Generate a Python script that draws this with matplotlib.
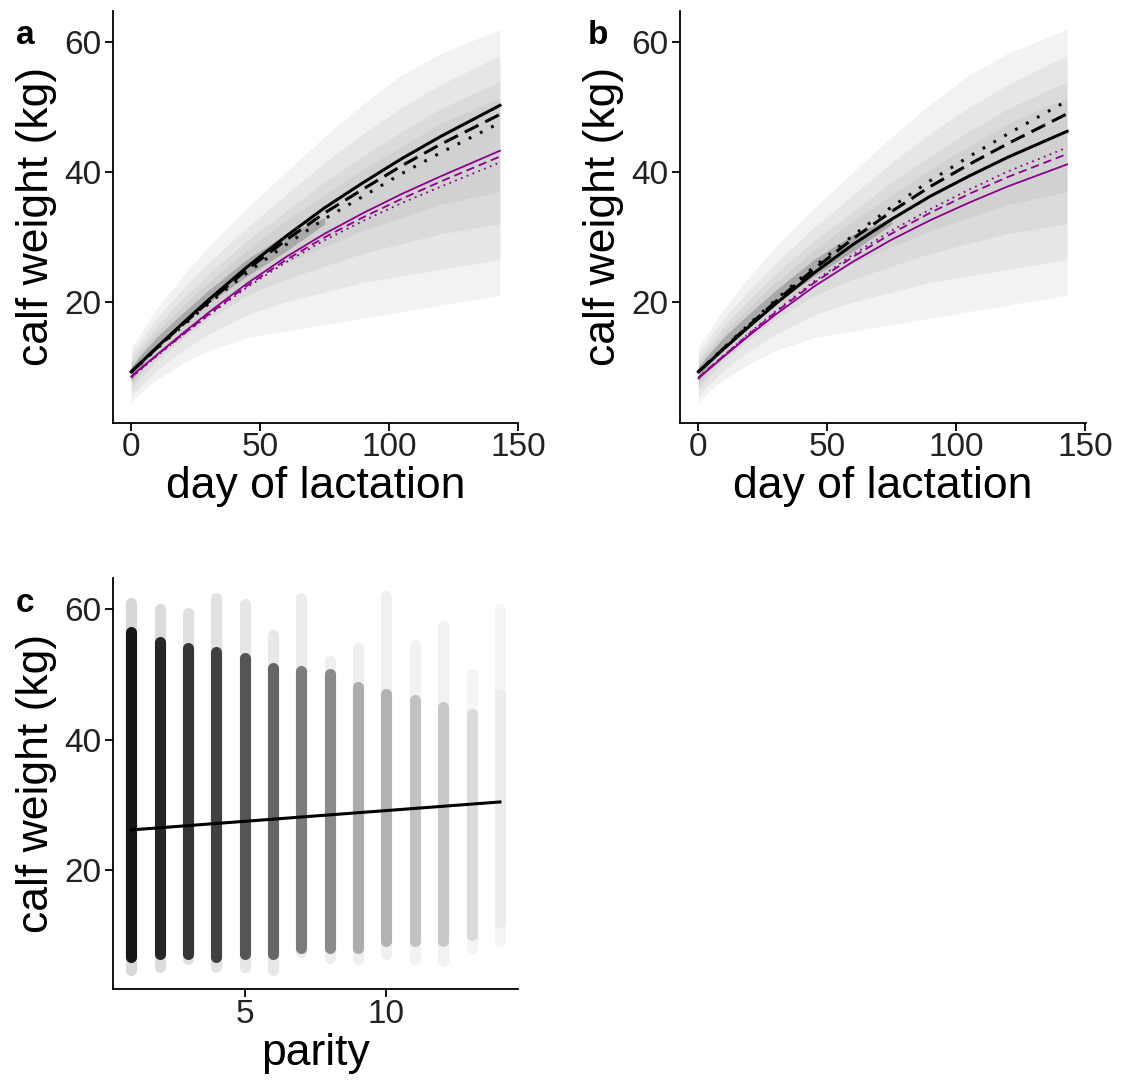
import matplotlib
matplotlib.use("Agg")
import matplotlib.pyplot as plt

plt.rcParams['font.family'] = ['Liberation Sans', 'DejaVu Sans']
plt.rcParams['lines.scale_dashes'] = False

# ---- data ----
days = [0, 10, 20, 30, 45, 60, 75, 90, 105, 120, 143]

# panel a fitted curves (calf weight, kg)
a_black_solid = [9.2, 13.0, 16.7, 20.3, 25.4, 30.1, 34.5, 38.4, 42.1, 45.5, 50.3]
a_black_dash = [9.2, 12.9, 16.5, 20.0, 25.0, 29.5, 33.7, 37.4, 41.0, 44.3, 48.9]
a_black_dot = [9.1, 12.8, 16.3, 19.7, 24.5, 28.8, 32.8, 36.3, 39.8, 43.0, 47.6]
a_purple_solid = [8.5, 11.85, 15.15, 18.35, 22.85, 26.9, 30.5, 33.7, 36.65, 39.35, 43.3]
a_purple_dash = [8.4, 11.75, 14.95, 18.05, 22.5, 26.45, 29.95, 33.05, 35.9, 38.55, 42.4]
a_purple_dot = [8.3, 11.65, 14.85, 17.9, 22.25, 26.1, 29.5, 32.5, 35.25, 37.75, 41.5]

# panel b fitted curves
b_black_solid = [9.2, 12.8, 16.3, 19.7, 24.5, 28.85, 32.75, 36.3, 39.4, 42.3, 46.3]
b_black_dash = [9.2, 12.9, 16.5, 20.05, 25.1, 29.75, 33.95, 37.8, 41.2, 44.4, 49.0]
b_black_dot = [9.2, 12.95, 16.65, 20.3, 25.45, 30.25, 34.65, 38.7, 42.4, 45.9, 51.0]
b_purple_solid = [8.2, 11.6, 14.9, 18.05, 22.4, 26.2, 29.6, 32.6, 35.3, 37.8, 41.2]
b_purple_dash = [8.3, 11.75, 15.15, 18.4, 22.95, 26.95, 30.55, 33.75, 36.65, 39.25, 42.8]
b_purple_dot = [8.3, 11.8, 15.25, 18.55, 23.2, 27.3, 31.0, 34.3, 37.3, 40.1, 43.8]

# spread of the raw observations (same cloud in a and b), outer -> inner
cloud_days = [0, 5, 10, 20, 30, 45, 60, 75, 90, 105, 120, 143]
spread_hi = [
    [13.0, 16.0, 19.0, 24.0, 28.5, 34.5, 40.0, 45.5, 50.5, 55.0, 58.3, 62.0],
    [12.0, 14.8, 17.5, 22.0, 26.0, 31.5, 36.5, 41.5, 46.0, 50.0, 53.5, 58.0],
    [11.0, 13.8, 16.3, 20.5, 24.3, 29.5, 34.0, 38.5, 42.5, 46.3, 49.8, 54.0],
    [10.5, 13.0, 15.4, 19.3, 23.0, 28.0, 32.5, 36.5, 40.5, 44.0, 47.5, 51.5],
]
spread_lo = [
    [4.5, 6.5, 8.0, 10.5, 12.5, 14.5, 15.5, 16.5, 17.5, 18.5, 19.5, 21.0],
    [5.5, 7.5, 9.5, 12.5, 15.0, 18.0, 20.0, 21.5, 23.0, 24.0, 25.0, 26.5],
    [6.5, 8.8, 11.0, 14.3, 17.3, 21.0, 23.5, 25.5, 27.5, 29.0, 30.5, 32.0],
    [7.2, 9.8, 12.2, 15.5, 18.8, 23.0, 26.0, 28.5, 31.0, 33.0, 35.0, 37.0],
]
dense_days = [0, 5, 10, 20, 30, 45, 60, 75]
dense_hi = [10.0, 12.4, 14.6, 18.3, 21.8, 26.6, 30.4, 33.0]
dense_lo = [7.8, 10.6, 13.0, 16.5, 19.8, 24.0, 27.8, 32.0]

# panel c: parity columns
parity = [1, 2, 3, 4, 5, 6, 7, 8, 9, 10, 11, 12, 13, 14]
par_min = [4.6, 5.1, 6.2, 5.0, 5.0, 4.6, 7.4, 6.4, 6.2, 7.0, 6.2, 6.0, 7.9, 9.0]
par_max = [61.0, 60.0, 59.5, 61.8, 60.8, 56.0, 61.8, 52.0, 54.0, 62.0, 54.5, 57.5, 50.0, 60.0]
par_dense_min = [6.5, 7.0, 7.0, 6.5, 7.0, 7.0, 8.0, 8.0, 8.0, 9.0, 9.0, 9.0, 10.0, 12.0]
par_dense_max = [56.5, 55.0, 54.0, 53.5, 52.5, 51.0, 50.5, 50.0, 48.0, 47.0, 46.0, 45.0, 44.0, 47.0]
par_shade = ['#161616', '#262626', '#353535', '#404040', '#555555', '#666666',
             '#7c7c7c', '#8a8a8a', '#acacac', '#b2b2b2', '#c2c2c2', '#c8c8c8',
             '#dadada', '#ececec']
par_faint = ['#d8d8d8', '#dcdcdc', '#e0e0e0', '#e2e2e2', '#e6e6e6', '#e8e8e8',
             '#ececec', '#eeeeee', '#efefef', '#f0f0f0', '#f2f2f2', '#f2f2f2',
             '#f4f4f4', '#f4f4f4']
fit_parity = [1, 14]
fit_weight = [26.1, 30.4]

PURPLE = '#8B008B'


def style_axes(ax):
    for s in ['top', 'right']:
        ax.spines[s].set_visible(False)
    for s in ['left', 'bottom']:
        ax.spines[s].set_linewidth(1.3)
    ax.tick_params(axis='both', labelsize=24, length=5.5, width=1.3,
                   colors='black', labelcolor='#222222')
    ax.tick_params(axis='x', pad=1.5)
    ax.tick_params(axis='y', pad=3)


def draw_growth(ax, curves):
    for lo, hi in zip(spread_lo, spread_hi):
        ax.fill_between(cloud_days, lo, hi, color='#606060', alpha=0.08, lw=0)
    ax.fill_between(dense_days, dense_lo, dense_hi, color='#606060', alpha=0.35, lw=0)
    bs, bd, bo, ps, pd, po = curves
    ax.plot(days, po, color=PURPLE, lw=1.3, dashes=(1.3, 3.2))
    ax.plot(days, pd, color=PURPLE, lw=1.3, dashes=(6, 3.5))
    ax.plot(days, ps, color=PURPLE, lw=1.3)
    ax.plot(days, bo, color='black', lw=2.2, dashes=(2, 7))
    ax.plot(days, bd, color='black', lw=2.2, dashes=(11, 5.5))
    ax.plot(days, bs, color='black', lw=2.2)
    ax.set_xlim(-7.15, 150.15)
    ax.set_ylim(1.35, 64.85)
    ax.set_xticks([0, 50, 100, 150])
    ax.set_yticks([20, 40, 60])
    ax.set_xlabel('day of lactation', fontsize=32, labelpad=2)
    ax.set_ylabel('calf weight (kg)', fontsize=32, labelpad=5)
    style_axes(ax)


fig = plt.figure(figsize=(11.31, 10.82), dpi=100)
ax_a = fig.add_axes([0.0997, 0.6093, 0.3586, 0.3805])
ax_b = fig.add_axes([0.6012, 0.6093, 0.3586, 0.3805])
ax_c = fig.add_axes([0.0997, 0.0857, 0.3586, 0.3805])

draw_growth(ax_a, [a_black_solid, a_black_dash, a_black_dot,
                   a_purple_solid, a_purple_dash, a_purple_dot])
draw_growth(ax_b, [b_black_solid, b_black_dash, b_black_dot,
                   b_purple_solid, b_purple_dash, b_purple_dot])

ax_c.vlines(parity, par_min, par_max, colors=par_faint, lw=8, capstyle='round')
ax_c.vlines(parity, par_dense_min, par_dense_max, colors=par_shade, lw=8,
            capstyle='round')
ax_c.plot(fit_parity, fit_weight, color='black', lw=2.2)
ax_c.set_xlim(0.35, 14.65)
ax_c.set_ylim(1.6, 64.9)
ax_c.set_xticks([5, 10])
ax_c.set_yticks([20, 40, 60])
ax_c.set_xlabel('parity', fontsize=32, labelpad=2)
ax_c.set_ylabel('calf weight (kg)', fontsize=32, labelpad=5)
style_axes(ax_c)

fig.text(16 / 1131, 1 - 44 / 1082, 'a', fontsize=24, fontweight='bold', va='baseline')
fig.text(588 / 1131, 1 - 44 / 1082, 'b', fontsize=24, fontweight='bold', va='baseline')
fig.text(16 / 1131, 1 - 612 / 1082, 'c', fontsize=24, fontweight='bold', va='baseline')

fig.savefig('out.png', dpi=100)
